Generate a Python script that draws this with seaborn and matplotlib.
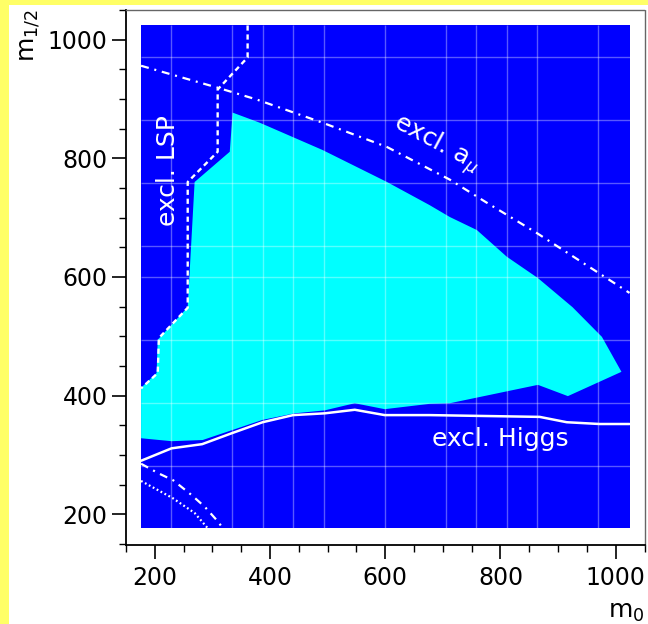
import matplotlib
matplotlib.use("Agg")
import matplotlib.pyplot as plt
from matplotlib.patches import Rectangle
from matplotlib.ticker import MultipleLocator
import pandas as pd
import seaborn as sns

# Allowed region (m0, m1/2 in GeV), boundary traced clockwise from lower left
allowed_m0 = [176, 229, 283, 335, 387, 443, 495, 547, 599, 677, 712, 865, 917, 1010,
              976, 925, 865, 811, 759, 712, 677, 603, 491, 382, 335,
              330, 269, 257, 205, 203, 176]
allowed_m12 = [328, 323, 325, 342, 359, 370, 375, 387, 377, 386, 387, 418, 399, 440,
               499, 549, 598, 634, 679, 701, 721, 760, 814, 860, 877,
               811, 760, 549, 494, 438, 413]

# Higgs mass exclusion contour
higgs_m0 = [176, 229, 282, 335, 387, 440, 495, 547, 599, 677, 868, 915, 972, 1024]
higgs_m12 = [290, 311, 318, 337, 355, 367, 370, 376, 367, 367, 364, 355, 352, 352]

# LSP exclusion contour
lsp_m0 = [361, 361, 309, 309, 257, 257, 207, 205, 176]
lsp_m12 = [1024, 970, 916, 811, 760, 548, 497, 438, 412]

# Muon g-2 exclusion contour
amu_m0 = [176, 309, 377, 491, 603, 712, 773, 863, 1024]
amu_m12 = [956, 919, 899, 860, 819, 764, 727, 674, 573]

# Lower-left contours
low_dashdot_m0 = [176, 206, 232, 264, 287, 310, 318]
low_dashdot_m12 = [285, 269, 257, 232, 212, 187, 176]
low_dotted_m0 = [176, 231, 269, 292]
low_dotted_m12 = [256, 227, 202, 176]

# Scan grid lines
grid_m0 = [228, 334, 387, 440, 493, 599, 705, 758, 811, 864, 970]
grid_m12 = [281, 387, 493, 599, 652, 758, 864, 970]

x_ticks = [200, 400, 600, 800, 1000]
y_ticks = [200, 400, 600, 800, 1000]

BLUE = "#0000ff"
CYAN = "#00ffff"
LO, HI = 176, 1024

sns.set_style("ticks")
plt.rcParams["font.family"] = ["DejaVu Sans"]
plt.rcParams["text.color"] = "black"

fig = plt.figure(figsize=(6.48, 6.24), dpi=100)
fig.patch.set_facecolor("white")
fig.patches.append(Rectangle((0, 0), 9 / 648, 1, transform=fig.transFigure,
                             facecolor="#ffff66", edgecolor="none", zorder=0))
fig.patches.append(Rectangle((0, 1 - 5 / 624), 1, 5 / 624, transform=fig.transFigure,
                             facecolor="#ffff66", edgecolor="none", zorder=0))

ax = fig.add_axes([125.5 / 648, 1 - 545 / 624, 519 / 648, 535 / 624])
ax.set_facecolor("white")
ax.set_xlim(149, 1050)
ax.set_ylim(148, 1050)

ax.add_patch(Rectangle((LO, LO), HI - LO, HI - LO, facecolor=BLUE, edgecolor="none", zorder=0))
ax.fill(allowed_m0, allowed_m12, color=CYAN, lw=0, zorder=1)

ax.vlines(grid_m0, LO, HI, colors="white", alpha=0.35, lw=1, zorder=2)
ax.hlines(grid_m12, LO, HI, colors="white", alpha=0.35, lw=1, zorder=2)


def contour(xs, ys, **kw):
    df = pd.DataFrame({"m0": xs, "m12": ys})
    sns.lineplot(data=df, x="m0", y="m12", sort=False, estimator=None,
                 color="white", ax=ax, zorder=3, **kw)


contour(higgs_m0, higgs_m12, lw=1.8)
contour(lsp_m0, lsp_m12, lw=1.7, dashes=(2.2, 1.6))
contour(amu_m0, amu_m12, lw=1.6, dashes=(3.6, 2.6, 0.9, 2.6))
contour(low_dashdot_m0, low_dashdot_m12, lw=1.6, dashes=(3.6, 2.6, 0.9, 2.6))
contour(low_dotted_m0, low_dotted_m12, lw=1.6, dashes=(0.8, 1.2))

ax.text(222, 779, "excl. LSP", rotation=90, color="white", fontsize=18,
        ha="center", va="center", zorder=4)
ax.text(800, 327, "excl. Higgs", color="white", fontsize=18,
        ha="center", va="center", zorder=4)
ax.text(689, 823, r"excl. a$_{\mu}$", rotation=-28, rotation_mode="anchor",
        color="white", fontsize=18, ha="center", va="center", zorder=4)

ax.set_xticks(x_ticks)
ax.set_yticks(y_ticks)
ax.xaxis.set_minor_locator(MultipleLocator(50))
ax.yaxis.set_minor_locator(MultipleLocator(50))
ax.tick_params(which="major", direction="out", length=10, width=1.2, labelsize=17,
               colors="black")
ax.tick_params(axis="x", which="major", pad=5)
ax.tick_params(axis="y", which="major", pad=3)
ax.tick_params(which="minor", direction="out", length=5, width=1, colors="black")
ax.set_xlabel("")
ax.set_ylabel("")

for side in ("left", "bottom"):
    ax.spines[side].set_color("black")
    ax.spines[side].set_linewidth(1.3)
for side in ("top", "right"):
    ax.spines[side].set_visible(True)
    ax.spines[side].set_color("#666666")
    ax.spines[side].set_linewidth(1)
    ax.spines[side].set_linestyle((0, (1, 1)))

fig.text(30 / 648, 1 - 10 / 624, r"m$_{1/2}$", rotation=90, fontsize=18,
         color="black", ha="center", va="top")
fig.text(645 / 648, 0, r"m$_{0}$", fontsize=18, color="black", ha="right", va="bottom")

fig.savefig("out.png", dpi=100)
